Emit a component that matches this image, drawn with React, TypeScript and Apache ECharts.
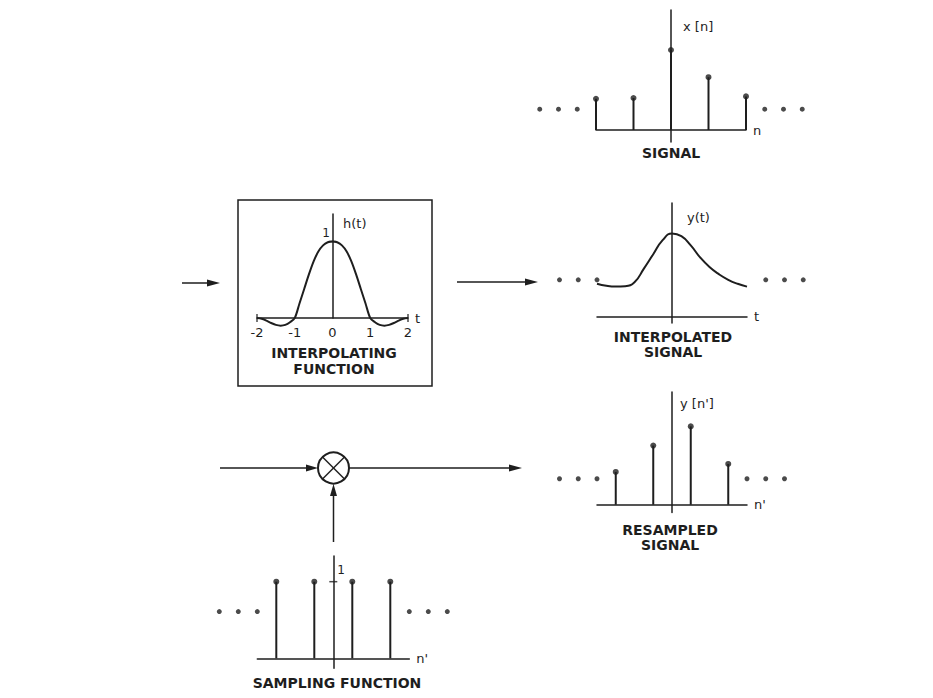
import { useEffect, useRef } from 'react';
import * as echarts from 'echarts';

const INK = '#1e1e1e';
const FONT = 'DejaVu Sans';

// x[n] : input signal
const signalN = [-2, -1, 0, 1, 2];
const signalX = [0.39, 0.4, 1.0, 0.66, 0.42];
const signalDots = [-3.5, -3, -2.5, 2.5, 3, 3.5];
const signalDotLevel = 0.26;

// h(t) : interpolating function
const kernelT = [
  -2, -1.875, -1.75, -1.625, -1.5, -1.375, -1.25, -1.125, -1, -0.875, -0.75, -0.625, -0.5, -0.375, -0.25,
  -0.125, 0, 0.125, 0.25, 0.375, 0.5, 0.625, 0.75, 0.875, 1, 1.125, 1.25, 1.375, 1.5, 1.625, 1.75, 1.875, 2,
];
const kernelH = [
  0, -0.01, -0.035, -0.065, -0.09, -0.1, -0.09, -0.055, 0, 0.19, 0.38, 0.57, 0.74, 0.87, 0.95, 0.99, 1, 0.99,
  0.95, 0.87, 0.74, 0.57, 0.38, 0.19, 0, -0.055, -0.09, -0.1, -0.09, -0.065, -0.035, -0.01, 0,
];
const kernelTicks = [-2, 2];

// y(t) : interpolated signal
const interpT = [-2, -1.75, -1.5, -1.25, -1, -0.75, -0.5, -0.25, 0, 0.25, 0.5, 0.75, 1, 1.25, 1.5, 1.75, 2];
const interpY = [0.41, 0.385, 0.375, 0.38, 0.43, 0.6, 0.78, 0.955, 1.04, 1.005, 0.89, 0.74, 0.62, 0.53, 0.46, 0.41, 0.375];
const interpDots = [-3, -2.5, -2, 2.5, 3, 3.5];
const interpDotLevel = 0.46;

// y[n'] : resampled signal
const resampN = [-1.5, -0.5, 0.5, 1.5];
const resampY = [0.41, 0.74, 0.98, 0.51];
const resampDots = [-3, -2.5, -2, 2, 2.5, 3];
const resampDotLevel = 0.325;

// sampling function
const sampN = [-1.5, -0.5, 0.5, 1.5];
const sampY = [1, 1, 1, 1];
const sampDots = [-3, -2.5, -2, 2, 2.5, 3];
const sampDotLevel = 0.61;

const txt = (text: string, x: number, y: number, size = 13, weight = 'normal', align = 'left') => ({
  type: 'text',
  x,
  y,
  silent: true,
  style: {
    text,
    fill: INK,
    fontSize: size,
    fontFamily: FONT,
    fontWeight: weight,
    align,
    textAlign: align,
    verticalAlign: 'middle',
    textVerticalAlign: 'middle',
  },
});

const seg = (x1: number, y1: number, x2: number, y2: number, w = 1.5) => ({
  type: 'line',
  silent: true,
  shape: { x1, y1, x2, y2 },
  style: { stroke: INK, lineWidth: w },
});

const head = (pts: number[][]) => ({
  type: 'polygon',
  silent: true,
  shape: { points: pts },
  style: { fill: INK },
});

const xAx = (i: number, name = '', extra: any = {}) => ({
  gridIndex: i,
  type: 'value',
  min: -2,
  max: 2,
  axisLine: { show: true, onZero: true, lineStyle: { color: INK, width: 1.5 } },
  axisTick: { show: false },
  axisLabel: { show: false },
  splitLine: { show: false },
  name,
  nameLocation: 'end',
  nameGap: 7,
  nameTextStyle: { color: INK, fontSize: 13, fontFamily: FONT },
  ...extra,
});

const yAx = (i: number, min: number, max: number) => ({
  gridIndex: i,
  type: 'value',
  min,
  max,
  axisLine: { show: true, onZero: true, lineStyle: { color: INK, width: 1.5 } },
  axisTick: { show: false },
  axisLabel: { show: false },
  splitLine: { show: false },
});

const stems = (i: number, xs: number[], ys: number[]) => [
  {
    type: 'bar',
    xAxisIndex: i,
    yAxisIndex: i,
    data: xs.map((x, k) => [x, ys[k]]),
    barWidth: 2,
    itemStyle: { color: INK },
    silent: true,
  },
  {
    type: 'scatter',
    xAxisIndex: i,
    yAxisIndex: i,
    data: xs.map((x, k) => [x, ys[k]]),
    symbolSize: 6,
    itemStyle: { color: INK },
    silent: true,
  },
];

const dots = (i: number, xs: number[], level: number) => ({
  type: 'scatter',
  xAxisIndex: i,
  yAxisIndex: i,
  data: xs.map((x) => [x, level]),
  symbolSize: 5,
  clip: false,
  itemStyle: { color: INK },
  silent: true,
});

const unitMark = (i: number) => ({
  type: 'scatter',
  xAxisIndex: i,
  yAxisIndex: i,
  data: [[0, 1]],
  symbol: 'rect',
  symbolSize: [8, 1.5],
  itemStyle: { color: INK },
  silent: true,
});

export default function App() {
  const ref = useRef<HTMLDivElement>(null);

  useEffect(() => {
    if (!ref.current) return;
    const chart = echarts.init(ref.current, null, { renderer: 'svg' });

    const label14 = (t: string, x: number, y: number) => txt(t, x, y, 14, 'bold', 'center');

    chart.setOption({
      animation: false,
      backgroundColor: '#ffffff',
      grid: [
        { left: 596, top: 10, width: 150, height: 132, outerBoundsMode: 'none' },
        { left: 257, top: 214, width: 151, height: 104, outerBoundsMode: 'none' },
        { left: 597, top: 203, width: 150, height: 120, outerBoundsMode: 'none' },
        { left: 597, top: 392, width: 150, height: 120.4, outerBoundsMode: 'none' },
        { left: 257.3, top: 556, width: 152, height: 112.3, outerBoundsMode: 'none' },
      ],
      xAxis: [
        xAx(0, 'n'),
        xAx(1, 't', {
          interval: 1,
          axisLabel: {
            show: true,
            color: INK,
            fontSize: 13,
            fontFamily: FONT,
            margin: 8,
            showMinLabel: true,
            showMaxLabel: true,
          },
        }),
        xAx(2, 't'),
        xAx(3, "n'"),
        xAx(4, "n'"),
      ],
      yAxis: [
        yAx(0, -0.15, 1.5),
        yAx(1, 0, 1.36),
        yAx(2, -0.08, 1.42),
        yAx(3, -0.096, 1.41),
        yAx(4, -0.13, 1.335),
      ],
      series: [
        ...stems(0, signalN, signalX),
        dots(0, signalDots, signalDotLevel),
        {
          type: 'line',
          xAxisIndex: 1,
          yAxisIndex: 1,
          data: kernelT.map((t, k) => [t, kernelH[k]]),
          smooth: 0.3,
          showSymbol: false,
          clip: false,
          lineStyle: { color: INK, width: 2 },
          silent: true,
        },
        {
          type: 'scatter',
          xAxisIndex: 1,
          yAxisIndex: 1,
          data: kernelTicks.map((t) => [t, 0]),
          symbol: 'rect',
          symbolSize: [1.5, 8],
          itemStyle: { color: INK },
          silent: true,
        },
        unitMark(1),
        {
          type: 'line',
          xAxisIndex: 2,
          yAxisIndex: 2,
          data: interpT.map((t, k) => [t, interpY[k]]),
          smooth: 0.5,
          showSymbol: false,
          lineStyle: { color: INK, width: 2 },
          silent: true,
        },
        dots(2, interpDots, interpDotLevel),
        ...stems(3, resampN, resampY),
        dots(3, resampDots, resampDotLevel),
        ...stems(4, sampN, sampY),
        dots(4, sampDots, sampDotLevel),
        unitMark(4),
      ],
      graphic: [
        // interpolating function box
        {
          type: 'rect',
          silent: true,
          shape: { x: 238, y: 200, width: 194, height: 186 },
          style: { fill: 'none', stroke: INK, lineWidth: 1.5 },
        },
        // arrows into / out of the box
        seg(182, 283, 210, 283),
        head([[207, 279.5], [220, 283], [207, 286.5]]),
        seg(457, 282, 528, 282),
        head([[525, 278.5], [538, 282], [525, 285.5]]),
        // multiplier
        {
          type: 'circle',
          silent: true,
          shape: { cx: 333.5, cy: 468, r: 15.5 },
          style: { fill: 'none', stroke: INK, lineWidth: 2 },
        },
        seg(322.5, 457, 344.5, 479),
        seg(322.5, 479, 344.5, 457),
        seg(220, 468, 308, 468),
        head([[306, 464.5], [318, 468], [306, 471.5]]),
        seg(349, 468, 512, 468),
        head([[509, 464.5], [522, 468], [509, 471.5]]),
        seg(333.5, 542, 333.5, 494),
        head([[330, 496], [333.5, 484], [337, 496]]),
        // labels
        txt('x [n]', 683, 26),
        label14('SIGNAL', 671, 153),
        txt('h(t)', 343, 223),
        txt('1', 326, 233, 12, 'normal', 'center'),
        label14('INTERPOLATING', 334, 353),
        label14('FUNCTION', 334, 369),
        txt('y(t)', 687, 217),
        label14('INTERPOLATED', 673, 337),
        label14('SIGNAL', 673, 352),
        txt("y [n']", 680, 403),
        label14('RESAMPLED', 670, 530),
        label14('SIGNAL', 670, 545),
        txt('1', 341, 570, 12, 'normal', 'center'),
        label14('SAMPLING FUNCTION', 337, 683),
      ],
    });

    return () => {
      chart.dispose();
    };
  }, []);

  return (
    <div
      ref={ref}
      style={{ position: 'fixed', left: 0, top: 0, width: 933, height: 698, background: '#fff' }}
    />
  );
}
